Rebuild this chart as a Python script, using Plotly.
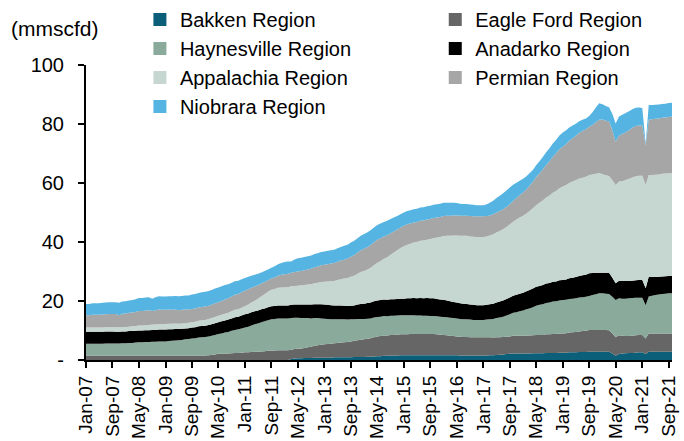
import pandas as pd
import plotly.graph_objects as go

# ---------------- data (mmscfd, monthly Jan-07 .. Oct-21) ----------------
months = pd.date_range("2007-01-01", periods=178, freq="MS")

tick_labels = ["Jan-07", "Sep-07", "May-08", "Jan-09", "Sep-09", "May-10", "Jan-11",
               "Sep-11", "May-12", "Jan-13", "Sep-13", "May-14", "Jan-15", "Sep-15",
               "May-16", "Jan-17", "Sep-17", "May-18", "Jan-19", "Sep-19", "May-20",
               "Jan-21", "Sep-21"]
tick_dates = pd.date_range("2007-01-01", periods=len(tick_labels), freq="8MS")

y_tick_vals = [0, 20, 40, 60, 80, 100]
y_tick_text = ["-", "20", "40", "60", "80", "100"]

bakken = [
    0, 0, 0, 0, 0, 0, 0, 0, 0, 0, 0, 0,
    0, 0, 0, 0, 0, 0, 0, 0, 0, 0, 0, 0,
    0, 0, 0, 0, 0, 0, 0, 0, 0, 0, 0, 0,
    0, 0, 0, 0, 0, 0, 0, 0, 0, 0, 0, 0,
    0, 0, 0, 0, 0, 0, 0, 0, 0, 0, 0, 0,
    0, 0, 0.3, 0.5, 0.6, 0.6, 0.7, 0.7, 0.7, 0.8, 0.8, 0.8,
    0.8, 0.8, 0.8, 0.9, 0.9, 0.9, 0.9, 0.9, 0.9, 1.0, 1.0, 1.0,
    1.0, 1.1, 1.1, 1.2, 1.3, 1.3, 1.4, 1.4, 1.5, 1.5, 1.5, 1.6,
    1.6, 1.6, 1.6, 1.6, 1.6, 1.6, 1.6, 1.6, 1.6, 1.6, 1.6, 1.6,
    1.6, 1.6, 1.6, 1.6, 1.6, 1.5, 1.5, 1.5, 1.5, 1.5, 1.5, 1.5,
    1.5, 1.5, 1.6, 1.6, 1.7, 1.8, 1.9, 2.0, 2.1, 2.2, 2.2, 2.2,
    2.2, 2.2, 2.2, 2.3, 2.3, 2.3, 2.3, 2.4, 2.4, 2.4, 2.4, 2.5,
    2.5, 2.5, 2.6, 2.6, 2.6, 2.7, 2.7, 2.7, 2.8, 2.8, 2.8, 2.8,
    2.8, 2.8, 2.8, 2.2, 1.4, 2.0, 2.2, 2.3, 2.4, 2.4, 2.5, 2.6,
    2.6, 2.0, 2.8, 2.8, 2.8, 2.8, 2.8, 2.8, 2.8, 2.8,
]

eagle_ford = [
    1.5, 1.5, 1.5, 1.5, 1.5, 1.5, 1.5, 1.5, 1.5, 1.5, 1.5, 1.5,
    1.5, 1.5, 1.5, 1.5, 1.5, 1.5, 1.5, 1.5, 1.5, 1.5, 1.5, 1.5,
    1.5, 1.5, 1.5, 1.5, 1.5, 1.5, 1.5, 1.5, 1.5, 1.5, 1.5, 1.5,
    1.5, 1.6, 1.7, 1.9, 2.1, 2.1, 2.2, 2.2, 2.3, 2.4, 2.4, 2.5,
    2.6, 2.6, 2.7, 2.8, 2.8, 2.9, 3.0, 3.1, 3.2, 3.2, 3.3, 3.3,
    3.3, 3.3, 3.2, 3.2, 3.2, 3.3, 3.4, 3.6, 3.8, 4.0, 4.2, 4.4,
    4.5, 4.6, 4.7, 4.8, 4.9, 5.0, 5.1, 5.2, 5.4, 5.5, 5.7, 5.9,
    6.0, 6.1, 6.3, 6.5, 6.7, 6.8, 6.9, 6.9, 7.0, 7.0, 7.1, 7.1,
    7.1, 7.1, 7.2, 7.2, 7.2, 7.2, 7.2, 7.2, 7.2, 7.2, 7.1, 7.0,
    6.9, 6.8, 6.6, 6.5, 6.4, 6.4, 6.3, 6.3, 6.2, 6.2, 6.2, 6.2,
    6.2, 6.2, 6.1, 6.0, 6.0, 5.9, 5.9, 5.9, 5.9, 6.0, 6.0, 6.0,
    6.0, 6.1, 6.1, 6.1, 6.2, 6.2, 6.2, 6.3, 6.3, 6.4, 6.4, 6.5,
    6.5, 6.6, 6.7, 6.8, 6.9, 7.0, 7.1, 7.2, 7.4, 7.4, 7.4, 7.4,
    7.4, 7.4, 7.3, 6.8, 6.3, 6.4, 6.0, 5.8, 5.7, 5.8, 5.9, 5.9,
    5.9, 5.3, 6.2, 6.2, 6.2, 6.2, 6.2, 6.2, 6.2, 6.2,
]

haynesville = [
    4.0, 4.0, 4.0, 4.0, 4.0, 4.0, 4.1, 4.1, 4.1, 4.1, 4.1, 4.2,
    4.2, 4.3, 4.3, 4.4, 4.5, 4.5, 4.6, 4.6, 4.7, 4.7, 4.8, 4.8,
    4.8, 4.9, 5.0, 5.1, 5.2, 5.3, 5.5, 5.6, 5.8, 5.9, 6.1, 6.2,
    6.3, 6.4, 6.5, 6.6, 6.7, 6.9, 7.1, 7.3, 7.6, 7.8, 8.0, 8.2,
    8.4, 8.7, 9.0, 9.3, 9.6, 9.9, 10.1, 10.4, 10.6, 10.7, 10.8, 10.8,
    10.8, 10.8, 10.7, 10.6, 10.5, 10.3, 10.1, 9.9, 9.6, 9.4, 9.2, 8.9,
    8.7, 8.5, 8.3, 8.1, 8.0, 7.9, 7.8, 7.6, 7.5, 7.3, 7.2, 7.0,
    6.9, 6.8, 6.7, 6.7, 6.6, 6.6, 6.6, 6.5, 6.5, 6.5, 6.5, 6.5,
    6.5, 6.5, 6.4, 6.4, 6.3, 6.3, 6.2, 6.2, 6.1, 6.1, 6.1, 6.1,
    6.1, 6.1, 6.1, 6.1, 6.1, 6.0, 6.0, 6.0, 6.0, 5.9, 5.9, 5.9,
    5.9, 6.0, 6.1, 6.3, 6.5, 6.7, 6.9, 7.2, 7.5, 7.8, 8.0, 8.3,
    8.6, 8.9, 9.2, 9.5, 9.9, 10.2, 10.4, 10.6, 10.8, 11.0, 11.1, 11.2,
    11.3, 11.3, 11.4, 11.4, 11.4, 11.5, 11.5, 11.5, 11.5, 11.8, 12.1, 12.4,
    12.4, 12.3, 12.3, 12.4, 12.6, 12.5, 12.6, 12.7, 12.8, 12.8, 12.7, 12.6,
    12.6, 11.3, 12.5, 12.8, 13.0, 13.2, 13.4, 13.5, 13.6, 13.6,
]

anadarko = [
    4.1, 4.1, 4.1, 4.1, 4.1, 4.1, 4.1, 4.1, 4.1, 4.0, 4.0, 4.0,
    4.0, 4.0, 4.0, 4.0, 4.0, 4.0, 4.0, 4.0, 4.0, 4.0, 4.0, 4.0,
    4.0, 4.0, 3.9, 3.9, 3.8, 3.8, 3.7, 3.7, 3.7, 3.7, 3.8, 3.8,
    3.8, 3.9, 3.9, 4.0, 4.0, 4.1, 4.1, 4.2, 4.2, 4.3, 4.3, 4.4,
    4.5, 4.5, 4.5, 4.4, 4.4, 4.4, 4.4, 4.4, 4.4, 4.4, 4.4, 4.4,
    4.4, 4.4, 4.5, 4.5, 4.5, 4.6, 4.6, 4.6, 4.7, 4.7, 4.7, 4.8,
    4.8, 4.8, 4.8, 4.7, 4.7, 4.7, 4.6, 4.6, 4.6, 4.7, 4.9, 5.1,
    5.2, 5.3, 5.4, 5.5, 5.6, 5.6, 5.6, 5.6, 5.6, 5.6, 5.6, 5.6,
    5.6, 5.7, 5.7, 5.8, 5.8, 5.9, 5.9, 6.0, 6.0, 6.0, 5.9, 5.8,
    5.8, 5.7, 5.6, 5.5, 5.4, 5.3, 5.3, 5.2, 5.1, 5.1, 5.0, 5.0,
    5.0, 5.0, 5.1, 5.2, 5.3, 5.4, 5.5, 5.6, 5.7, 5.8, 5.9, 6.0,
    6.0, 6.1, 6.2, 6.3, 6.4, 6.4, 6.5, 6.6, 6.6, 6.7, 6.7, 6.8,
    6.8, 6.9, 7.0, 7.1, 7.2, 7.3, 7.4, 7.5, 7.7, 7.5, 7.2, 7.0,
    7.0, 7.1, 7.2, 6.5, 5.7, 6.0, 6.0, 6.0, 5.9, 5.9, 5.9, 6.0,
    6.0, 5.7, 6.7, 6.3, 6.1, 6.0, 5.9, 5.9, 5.9, 5.9,
]

appalachia = [
    1.4, 1.4, 1.4, 1.4, 1.4, 1.4, 1.4, 1.4, 1.4, 1.5, 1.5, 1.5,
    1.5, 1.5, 1.6, 1.6, 1.7, 1.7, 1.7, 1.8, 1.8, 1.8, 1.9, 1.9,
    1.9, 1.9, 1.9, 1.9, 1.8, 1.8, 1.8, 1.8, 1.8, 1.9, 1.9, 2.0,
    2.0, 2.0, 2.1, 2.1, 2.2, 2.2, 2.3, 2.3, 2.4, 2.5, 2.5, 2.6,
    2.7, 3.0, 3.3, 3.6, 4.0, 4.4, 4.8, 5.2, 5.6, 5.8, 6.0, 6.1,
    6.2, 6.2, 6.3, 6.3, 6.4, 6.5, 6.6, 6.8, 6.9, 7.1, 7.3, 7.5,
    7.7, 7.9, 8.1, 8.3, 8.6, 8.9, 9.2, 9.5, 9.8, 10.1, 10.4, 10.8,
    11.1, 11.4, 11.8, 12.2, 12.8, 13.3, 13.8, 14.4, 15.1, 15.8, 16.5, 17.2,
    17.8, 18.2, 18.5, 18.8, 19.1, 19.4, 19.6, 19.8, 20.1, 20.4, 20.8, 21.2,
    21.6, 21.9, 22.2, 22.5, 22.7, 22.9, 23.0, 23.1, 23.1, 23.1, 23.1, 23.1,
    23.1, 23.2, 23.3, 23.5, 23.7, 23.9, 24.1, 24.4, 24.8, 25.1, 25.5, 25.8,
    26.1, 26.4, 26.8, 27.2, 27.7, 28.2, 28.7, 29.2, 29.7, 30.2, 30.7, 31.2,
    31.7, 32.0, 32.3, 32.6, 32.8, 33.0, 33.1, 33.2, 33.3, 33.4, 33.6, 33.8,
    33.4, 33.0, 32.8, 33.0, 33.3, 33.6, 33.8, 34.2, 34.6, 35.0, 35.3, 35.4,
    35.4, 35.0, 34.5, 34.6, 34.7, 34.7, 34.8, 34.8, 34.8, 34.8,
]

permian = [
    4.2, 4.2, 4.3, 4.3, 4.3, 4.4, 4.4, 4.5, 4.5, 4.5, 4.1, 4.5,
    4.6, 4.7, 4.7, 4.8, 4.9, 4.9, 5.0, 5.0, 4.6, 4.9, 4.9, 4.8,
    4.8, 4.8, 4.7, 4.7, 4.6, 4.6, 4.6, 4.5, 4.5, 4.5, 4.5, 4.5,
    4.5, 4.5, 4.5, 4.6, 4.6, 4.7, 4.8, 4.9, 5.0, 5.1, 5.2, 5.3,
    5.3, 5.2, 5.0, 4.8, 4.5, 4.3, 4.1, 3.9, 3.8, 3.9, 4.1, 4.3,
    4.4, 4.5, 4.6, 4.7, 4.8, 4.9, 5.0, 5.1, 5.2, 5.4, 5.5, 5.7,
    5.8, 5.9, 6.0, 6.1, 6.2, 6.3, 6.4, 6.6, 6.8, 7.0, 7.2, 7.4,
    7.5, 7.6, 7.7, 7.8, 7.8, 7.7, 7.6, 7.5, 7.3, 7.2, 7.0, 6.9,
    6.9, 6.9, 6.9, 6.8, 6.8, 6.8, 6.8, 6.8, 6.8, 6.8, 6.8, 6.8,
    6.8, 6.8, 6.8, 6.8, 6.8, 6.8, 6.8, 6.8, 6.9, 6.9, 7.0, 7.0,
    7.0, 6.9, 6.8, 6.8, 6.8, 6.8, 6.8, 6.8, 6.8, 7.0, 7.3, 7.6,
    7.9, 8.2, 8.6, 9.0, 9.5, 10.0, 10.5, 11.0, 11.6, 12.2, 12.8, 13.2,
    13.5, 13.9, 14.3, 14.7, 15.1, 15.5, 15.8, 16.1, 16.4, 16.8, 17.5, 18.0,
    18.5, 18.5, 18.5, 17.0, 14.7, 15.6, 16.0, 16.2, 16.5, 16.8, 17.0, 17.0,
    17.0, 13.6, 18.7, 18.9, 19.0, 19.0, 19.0, 19.0, 19.1, 19.2,
]

niobrara = [
    3.8, 3.8, 3.9, 3.9, 3.9, 4.0, 4.0, 4.0, 4.0, 4.0, 4.2, 4.1,
    4.1, 4.2, 4.2, 4.3, 4.4, 4.4, 4.4, 4.4, 4.2, 4.4, 4.5, 4.5,
    4.5, 4.5, 4.6, 4.6, 4.7, 4.7, 4.8, 4.8, 4.9, 4.9, 4.9, 5.0,
    5.0, 5.0, 5.0, 5.0, 5.0, 5.0, 4.9, 4.8, 4.7, 4.6, 4.5, 4.4,
    4.3, 4.2, 4.1, 4.0, 3.9, 3.8, 3.8, 3.7, 3.7, 3.8, 3.9, 4.0,
    4.1, 4.2, 3.8, 4.3, 4.5, 4.5, 4.5, 4.5, 4.5, 4.5, 4.5, 4.5,
    4.5, 4.5, 4.5, 4.5, 4.6, 4.6, 4.7, 4.7, 4.8, 4.8, 4.9, 4.9,
    5.0, 5.0, 5.0, 5.0, 5.0, 5.0, 4.9, 4.9, 4.8, 4.7, 4.6, 4.5,
    4.5, 4.5, 4.5, 4.5, 4.5, 4.5, 4.5, 4.5, 4.5, 4.5, 4.5, 4.5,
    4.5, 4.4, 4.4, 4.3, 4.2, 4.1, 4.0, 4.0, 3.9, 3.9, 3.8, 3.8,
    3.8, 4.0, 4.3, 4.6, 4.9, 5.2, 5.4, 5.6, 5.7, 5.5, 5.2, 4.9,
    4.6, 4.4, 4.2, 4.0, 4.0, 4.1, 4.2, 4.3, 4.4, 4.5, 4.6, 4.7,
    4.8, 4.7, 4.5, 4.3, 4.1, 3.9, 3.8, 3.7, 3.6, 4.3, 5.0, 5.6,
    5.2, 5.0, 4.8, 5.5, 6.2, 6.4, 6.5, 6.5, 6.4, 6.3, 6.2, 6.1,
    5.9, 0.5, 5.0, 4.8, 4.7, 4.7, 4.7, 4.7, 4.7, 4.7,
]

series_names = ["Bakken Region", "Eagle Ford Region", "Haynesville Region",
                "Anadarko Region", "Appalachia Region", "Permian Region",
                "Niobrara Region"]
series_values = [bakken, eagle_ford, haynesville, anadarko, appalachia, permian, niobrara]
series_colors = ["#0b5f78", "#666666", "#8aab9b", "#000000", "#c6d7d1", "#a6a6a6", "#55b4e2"]
legend_of = ["legend", "legend2", "legend", "legend2", "legend", "legend2", "legend"]

FONT = "Liberation Sans, Arial, sans-serif"

fig = go.Figure()

# stacked areas (bottom to top)
for name, vals, col in zip(series_names, series_values, series_colors):
    fig.add_trace(go.Scatter(
        x=months, y=vals, name=name, stackgroup="gas", mode="none",
        fillcolor=col, line=dict(width=0), showlegend=False,
        hovertemplate="%{x|%b-%y}: %{y}<extra>" + name + "</extra>",
    ))

# legend entries with square swatches
for name, col, lg in zip(series_names, series_colors, legend_of):
    fig.add_trace(go.Scatter(
        x=[None], y=[None], mode="markers", name=name, legend=lg,
        marker=dict(symbol="square", size=13, color=col, line=dict(width=0)),
        showlegend=True,
    ))

legend_common = dict(yanchor="top", y=1.2203, orientation="v", traceorder="normal",
                     font=dict(size=20), bgcolor="rgba(0,0,0,0)",
                     itemclick=False, itemdoubleclick=False)

fig.update_layout(
    width=684, height=441,
    margin=dict(l=86, r=12, t=65, b=81, autoexpand=False),
    paper_bgcolor="white", plot_bgcolor="white",
    font=dict(family=FONT, size=20, color="#000000"),
    legend=dict(x=0.092, xanchor="left", **legend_common),
    legend2=dict(x=0.596, xanchor="left", **legend_common),
    annotations=[dict(text="(mmscfd)", xref="paper", yref="paper",
                      x=-0.1314, y=1.123, xanchor="left", yanchor="middle",
                      showarrow=False, font=dict(size=21))],
)

fig.update_xaxes(
    type="date", range=[months[0], months[-1]],
    tickvals=tick_dates, ticktext=tick_labels, tickangle=-90,
    tickfont=dict(size=19),
    showline=True, linecolor="black", linewidth=2,
    ticks="outside", ticklen=6, tickwidth=2, tickcolor="black",
    showgrid=False, zeroline=False,
)
fig.update_yaxes(
    range=[0, 100], tickvals=y_tick_vals, ticktext=y_tick_text,
    tickfont=dict(size=20), ticklabelstandoff=10,
    showline=True, linecolor="black", linewidth=2,
    ticks="outside", ticklen=6, tickwidth=2, tickcolor="black",
    showgrid=False, zeroline=False,
)

fig.write_html("out.html",
               config={"displayModeBar": False},
               post_script="document.body.style.margin='0';document.body.style.overflow='hidden';")
